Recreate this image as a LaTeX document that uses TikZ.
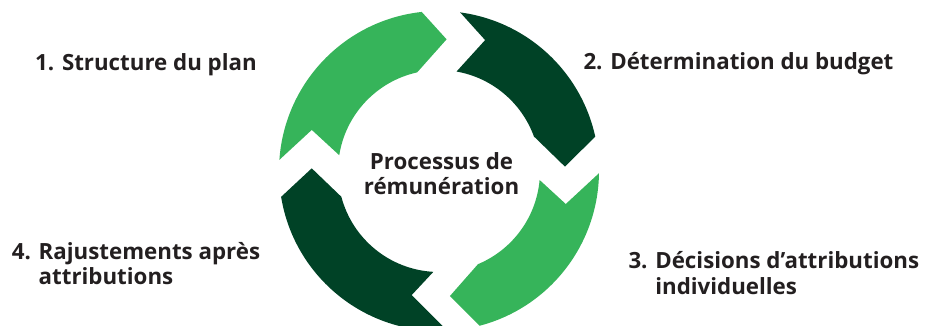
\documentclass[tikz,border=0pt]{standalone}
\usepackage{fontspec}
\setmainfont{Open Sans}
\usetikzlibrary{calc}
\definecolor{lightg}{RGB}{54,180,90}
\definecolor{darkg}{RGB}{0,66,38}
\definecolor{txt}{RGB}{35,31,32}
\tikzset{lbl/.style={font=\fontsize{22.3}{25.5}\selectfont\bfseries, text=txt, inner sep=0pt}}
\begin{document}
\begin{tikzpicture}[x=1pt,y=1pt]
\useasboundingbox (0,0) rectangle (925,326);
\clip (0,0) rectangle (925,326);
\coordinate (C) at (439,155);
% 1 top-left (light)
\fill[lightg] ($(C)+(176:160)$) arc[start angle=176,end angle=96.2,radius=160]
  -- ($(C)+(86.7:131.9)$) -- ($(C)+(102.5:101)$)
  arc[start angle=102.5,end angle=171,radius=101]
  -- ($(C)+(162.1:133.7)$) -- cycle;
% 2 top-right (dark)
\fill[darkg] ($(C)+(82.4:160)$) arc[start angle=82.4,end angle=12.4,radius=160]
  -- ($(C)+(2.0:126)$) -- ($(C)+(20.0:101)$)
  arc[start angle=20.0,end angle=80.0,radius=101]
  -- ($(C)+(70.6:138.8)$) -- cycle;
% 3 bottom-right (light)
\fill[lightg] ($(C)+(-0.8:160)$) arc[start angle=-0.8,end angle=-75.3,radius=160]
  -- ($(C)+(-85:125.5)$) -- ($(C)+(-67.3:101)$)
  arc[start angle=-67.3,end angle=-5.1,radius=101]
  -- ($(C)+(-14.6:131)$) -- cycle;
% 4 bottom-left (dark)
\fill[darkg] ($(C)+(-87:160)$) arc[start angle=-87,end angle=-170.7,radius=160]
  -- ($(C)+(-181.2:127.3)$) -- ($(C)+(-165.2:101)$)
  arc[start angle=-165.2,end angle=-93.2,radius=101]
  -- ($(C)+(-102.4:127)$) -- cycle;
% labels
\node[lbl, anchor=base west] (l1) at (35,255.3) {1. Structure du plan};
\node[lbl, anchor=base west] (l2) at (583.3,256) {2. Détermination du budget};
\node[lbl, anchor=base west, align=left] (l3) at (628.3,31.7) {3. Décisions d’attributions\\\hphantom{3. }individuelles};
\node[lbl, anchor=base west, align=left] (l4) at (11.7,41) {4. Rajustements après\\\hphantom{4. }attributions};
\node[lbl, anchor=base, align=center] (c) at (441.5,131) {Processus de\\rémunération};
\end{tikzpicture}
\end{document}
